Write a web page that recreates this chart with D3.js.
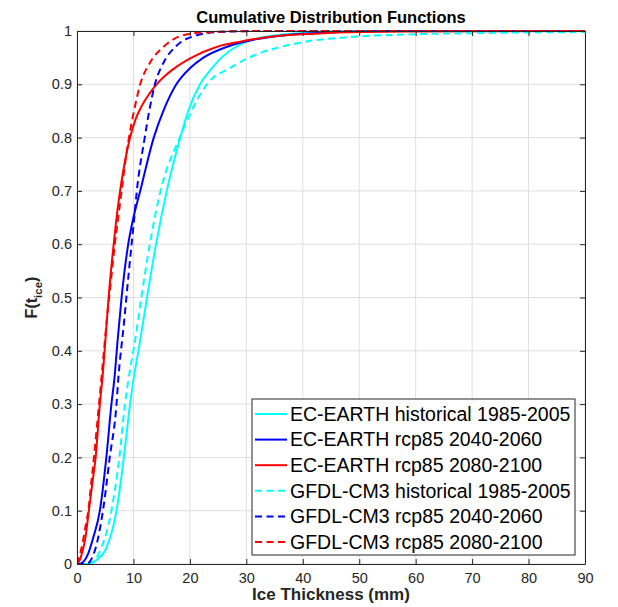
<!DOCTYPE html>
<html>
<head>
<meta charset="utf-8">
<script src="https://cdn.jsdelivr.net/npm/d3@7"></script>
<style>
  html, body { margin: 0; padding: 0; background: #fff; }
  svg { display: block; font-family: "Liberation Sans", Arial, Helvetica, sans-serif; }
</style>
</head>
<body>
<svg id="chart" width="618" height="607"></svg>
<script>
// Ice thickness (mm) and cumulative probability for each model / period
const ecHistX   = [0, 2.0, 3.5, 5.2, 7.0, 8.3, 9.4, 10.0, 11.2, 12.4, 14.0, 15.9, 18.3, 19.7, 21.8, 23.5, 25.6, 30, 34, 38, 45, 55, 90];
const ecHistF   = [0, 0, 0.008, 0.03, 0.1, 0.2, 0.3, 0.345, 0.42, 0.5, 0.6, 0.7, 0.8, 0.85, 0.9, 0.925, 0.95, 0.98, 0.99, 0.995, 0.999, 1, 1];

const ec2040X   = [0, 0.3, 1.2, 2.0, 2.9, 4.05, 5.2, 6.1, 6.6, 7.2, 7.9, 9.0, 10.0, 11.2, 13.6, 15.3, 17.6, 20.0, 22.4, 26.5, 32, 40, 55, 90];
const ec2040F   = [0, 0, 0.005, 0.02, 0.05, 0.1, 0.2, 0.3, 0.345, 0.42, 0.5, 0.595, 0.65, 0.7, 0.8, 0.85, 0.9, 0.93, 0.95, 0.97, 0.985, 0.995, 1, 1];

const ec2080X   = [0, 0.5, 1.0, 1.5, 2.1, 2.7, 3.3, 4.05, 4.6, 5.1, 5.6, 6.2, 6.9, 7.5, 8.4, 9.4, 10.4, 11.5, 12.8, 14.1, 15.5, 17.0, 20.3, 24.7, 28.9, 35, 42, 50, 60, 90];
const ec2080F   = [0, 0.008, 0.025, 0.05, 0.1, 0.15, 0.2, 0.3, 0.36, 0.43, 0.5, 0.57, 0.64, 0.69, 0.75, 0.8, 0.835, 0.86, 0.882, 0.9, 0.915, 0.928, 0.95, 0.97, 0.98, 0.99, 0.995, 0.998, 0.999, 1];

const gfHistX   = [0, 2.3, 3.2, 4.3, 6.1, 7.5, 8.5, 9.1, 10.3, 11.4, 12.9, 14.8, 18.2, 20.3, 23.0, 27.0, 30.5, 40, 49, 60, 70, 90];
const gfHistF   = [0, 0, 0.008, 0.03, 0.1, 0.2, 0.3, 0.345, 0.42, 0.5, 0.6, 0.7, 0.8, 0.85, 0.9, 0.93, 0.95, 0.979, 0.989, 0.994, 0.996, 0.998];

const gf2040X   = [0, 1.7, 2.5, 3.3, 4.6, 5.8, 7.0, 7.3, 8.3, 9.2, 10.1, 10.6, 12.0, 12.8, 13.8, 15.3, 17.4, 20.6, 25, 32, 90];
const gf2040F   = [0, 0, 0.008, 0.03, 0.1, 0.2, 0.3, 0.345, 0.45, 0.55, 0.645, 0.7, 0.8, 0.85, 0.9, 0.94, 0.97, 0.99, 0.998, 1, 1];

const gf2080X   = [0, 0.3, 1.0, 1.5, 2.0, 2.5, 3.0, 3.9, 4.6, 5.3, 6.0, 6.7, 7.3, 7.9, 8.5, 9.2, 10.1, 11.2, 12.9, 15.3, 18.2, 22, 28, 35, 90];
const gf2080F   = [0, 0.01, 0.04, 0.07, 0.1, 0.15, 0.2, 0.3, 0.38, 0.46, 0.53, 0.6, 0.65, 0.7, 0.75, 0.8, 0.85, 0.9, 0.94, 0.97, 0.99, 0.997, 0.9995, 1, 1];

const seriesNames = [
  "EC-EARTH historical 1985-2005",
  "EC-EARTH rcp85 2040-2060",
  "EC-EARTH rcp85 2080-2100",
  "GFDL-CM3 historical 1985-2005",
  "GFDL-CM3 rcp85 2040-2060",
  "GFDL-CM3 rcp85 2080-2100"
];
const xTicks = [0, 10, 20, 30, 40, 50, 60, 70, 80, 90];
const yTicks = [0, 0.1, 0.2, 0.3, 0.4, 0.5, 0.6, 0.7, 0.8, 0.9, 1];

const series = [
  { name: seriesNames[0], xs: ecHistX, fs: ecHistF, color: "#00ffff", dashed: false },
  { name: seriesNames[1], xs: ec2040X, fs: ec2040F, color: "#0000ff", dashed: false },
  { name: seriesNames[2], xs: ec2080X, fs: ec2080F, color: "#ff0000", dashed: false },
  { name: seriesNames[3], xs: gfHistX, fs: gfHistF, color: "#00ffff", dashed: true },
  { name: seriesNames[4], xs: gf2040X, fs: gf2040F, color: "#0000ff", dashed: true },
  { name: seriesNames[5], xs: gf2080X, fs: gf2080F, color: "#ff0000", dashed: true }
];

const svg = d3.select("#chart");
const plot = { left: 77, right: 585, top: 31, bottom: 564 };
const axisColor = "#262626";
const dash = "7,4.5";

const x = d3.scaleLinear().domain([0, 90]).range([plot.left, plot.right]);
const y = d3.scaleLinear().domain([0, 1]).range([plot.bottom, plot.top]);

svg.append("rect").attr("width", 618).attr("height", 607).attr("fill", "#fff");

// grid
const grid = svg.append("g").attr("stroke", "#dfdfdf").attr("stroke-width", 1);
xTicks.forEach(t => grid.append("line")
  .attr("x1", x(t)).attr("x2", x(t)).attr("y1", plot.top).attr("y2", plot.bottom));
yTicks.forEach(t => grid.append("line")
  .attr("x1", plot.left).attr("x2", plot.right).attr("y1", y(t)).attr("y2", y(t)));

// curves
svg.append("clipPath").attr("id", "plotClip")
  .append("rect").attr("x", plot.left).attr("y", plot.top - 2)
  .attr("width", plot.right - plot.left).attr("height", plot.bottom - plot.top + 2);

const line = d3.line().x(d => x(d[0])).y(d => y(d[1])).curve(d3.curveMonotoneX);
const curves = svg.append("g").attr("clip-path", "url(#plotClip)");
series.forEach(s => {
  const pts = s.xs.map((v, i) => [v, s.fs[i]]);
  curves.append("path")
    .datum(pts)
    .attr("d", line)
    .attr("fill", "none")
    .attr("stroke", s.color)
    .attr("stroke-width", 2)
    .attr("stroke-dasharray", s.dashed ? dash : null);
});

// axes (ticks pointing inward, box on all sides)
const fmtY = d => d3.format("~g")(d);
const axB = d3.axisBottom(x).tickValues(xTicks).tickSizeInner(-5).tickSizeOuter(0).tickPadding(9);
const axT = d3.axisTop(x).tickValues(xTicks).tickSizeInner(-5).tickSizeOuter(0).tickFormat("");
const axL = d3.axisLeft(y).tickValues(yTicks).tickSizeInner(-5).tickSizeOuter(0).tickPadding(5).tickFormat(fmtY);
const axR = d3.axisRight(y).tickValues(yTicks).tickSizeInner(-5).tickSizeOuter(0).tickFormat("");

function styleAxis(g) {
  g.select(".domain").attr("stroke", axisColor);
  g.selectAll(".tick line").attr("stroke", axisColor);
  g.selectAll(".tick text").attr("fill", axisColor)
    .style("font-size", "14.5px").style("font-family", "Liberation Sans, Arial, sans-serif");
}
svg.append("g").attr("transform", `translate(0,${plot.bottom})`).call(axB).call(styleAxis);
svg.append("g").attr("transform", `translate(0,${plot.top})`).call(axT).call(styleAxis);
svg.append("g").attr("transform", `translate(${plot.left},0)`).call(axL).call(styleAxis);
svg.append("g").attr("transform", `translate(${plot.right},0)`).call(axR).call(styleAxis);

// title and axis labels
svg.append("text")
  .attr("x", (plot.left + plot.right) / 2).attr("y", 23)
  .attr("text-anchor", "middle").attr("font-weight", "bold").attr("font-size", 16.5)
  .attr("fill", "#000").text("Cumulative Distribution Functions");

svg.append("text")
  .attr("x", (plot.left + plot.right) / 2).attr("y", 600)
  .attr("text-anchor", "middle").attr("font-weight", "bold").attr("font-size", 17)
  .attr("fill", axisColor).text("Ice Thickness (mm)");

const yl = svg.append("text")
  .attr("transform", `translate(37,${(plot.top + plot.bottom) / 2}) rotate(-90)`)
  .attr("text-anchor", "middle").attr("font-weight", "bold").attr("font-size", 16)
  .attr("fill", axisColor);
yl.append("tspan").text("F(t");
yl.append("tspan").attr("font-size", 11.5).attr("dy", 5).text("ice");
yl.append("tspan").attr("dy", -5).text(")");

// legend
const lg = { x: 252, y: 399, w: 323, h: 156 };
const legend = svg.append("g");
legend.append("rect").attr("x", lg.x).attr("y", lg.y).attr("width", lg.w).attr("height", lg.h)
  .attr("fill", "#fff").attr("stroke", axisColor).attr("stroke-width", 1);
series.forEach((s, i) => {
  const cy = lg.y + 15 + i * 25.6;
  legend.append("line")
    .attr("x1", lg.x + 3).attr("x2", lg.x + 35).attr("y1", cy).attr("y2", cy)
    .attr("stroke", s.color).attr("stroke-width", 2)
    .attr("stroke-dasharray", s.dashed ? dash : null);
  legend.append("text")
    .attr("x", lg.x + 38).attr("y", cy).attr("dy", "0.35em")
    .attr("font-size", 19.5).attr("fill", "#000").text(s.name);
});
</script>
</body>
</html>
